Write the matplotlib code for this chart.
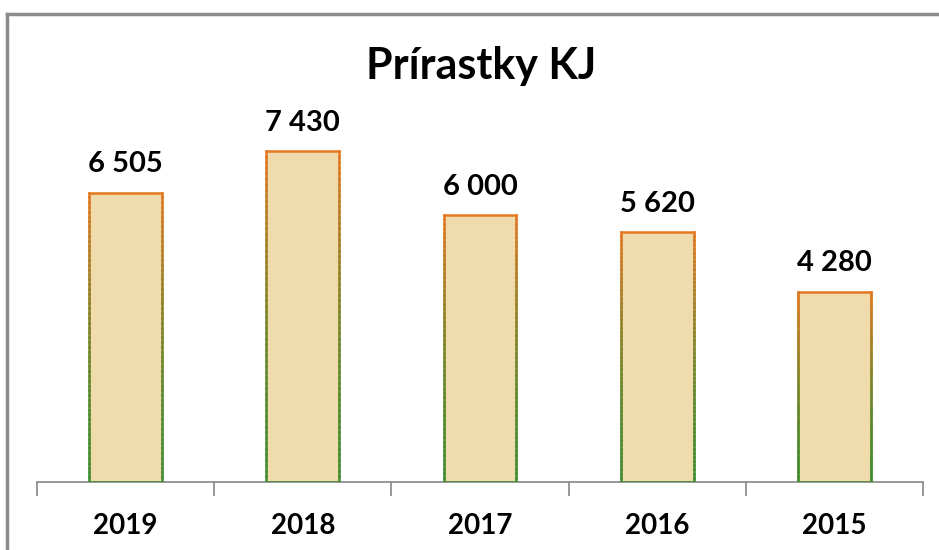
import numpy as np
import matplotlib.pyplot as plt
from matplotlib.collections import LineCollection

years = ['2019', '2018', '2017', '2016', '2015']
values = [6505, 7430, 6000, 5620, 4280]
labels = ['6 505', '7 430', '6 000', '5 620', '4 280']

plt.rcParams['font.family'] = ['Lato', 'DejaVu Sans']

fig = plt.figure(figsize=(9.39, 5.5), dpi=100)
W, H = 939, 550

# outer frame of the chart (left and top visible)
fig.add_artist(plt.Line2D([7 / W, 7 / W], [0, 1 - 14 / H], color='#8c8c8c', lw=2.5))
fig.add_artist(plt.Line2D([7 / W, 1], [1 - 14 / H, 1 - 14 / H], color='#8c8c8c', lw=2.5))

ax = fig.add_axes([37 / W, 68 / H, 886 / W, 382 / H])
x = np.arange(len(years))
ax.set_xlim(-0.5, len(years) - 0.5)
ax.set_ylim(0, 382 * 22.47)

bw = 0.41
bars = ax.bar(x, values, width=bw, color='#efdbab', edgecolor='none', zorder=2)

# edges: orange at the top fading to green at the bottom
orange = np.array([0.89, 0.47, 0.13])
green = np.array([0.25, 0.55, 0.18])
for b in bars:
    x0, x1 = b.get_x(), b.get_x() + b.get_width()
    h = b.get_height()
    n = 60
    ys = np.linspace(0, h, n + 1)
    segs, cols = [], []
    for xe in (x0, x1):
        for i in range(n):
            segs.append([(xe, ys[i]), (xe, ys[i + 1])])
            t = (ys[i] + ys[i + 1]) / 2 / h
            cols.append(green + (orange - green) * t ** 1.5)
    segs.append([(x0, h), (x1, h)])
    cols.append(orange)
    segs.append([(x0, 0), (x1, 0)])
    cols.append(green)
    ax.add_collection(LineCollection(segs, colors=cols, linewidths=1.8,
                                     capstyle='projecting', zorder=3))

for xi, v, lab in zip(x, values, labels):
    ax.annotate(lab, (xi, v), xytext=(0, 11), textcoords='offset points',
                ha='center', va='bottom', fontsize=21, fontweight='bold')

for s in ['top', 'right', 'left']:
    ax.spines[s].set_visible(False)
ax.spines['bottom'].set_color('#888888')
ax.spines['bottom'].set_linewidth(1.2)
ax.set_yticks([])
ax.set_xticks(x)
ax.set_xticklabels(years, fontsize=20, fontweight='bold')
ax.tick_params(axis='x', length=0, pad=22)
ax.set_xticks(np.arange(len(years) + 1) - 0.5, minor=True)
ax.tick_params(axis='x', which='minor', length=10, color='#888888', width=1.2)

fig.text(481 / W, 1 - 66 / H, 'Prírastky KJ', ha='center', va='center',
         fontsize=31, fontweight='bold')

fig.savefig('out.png', dpi=100)
